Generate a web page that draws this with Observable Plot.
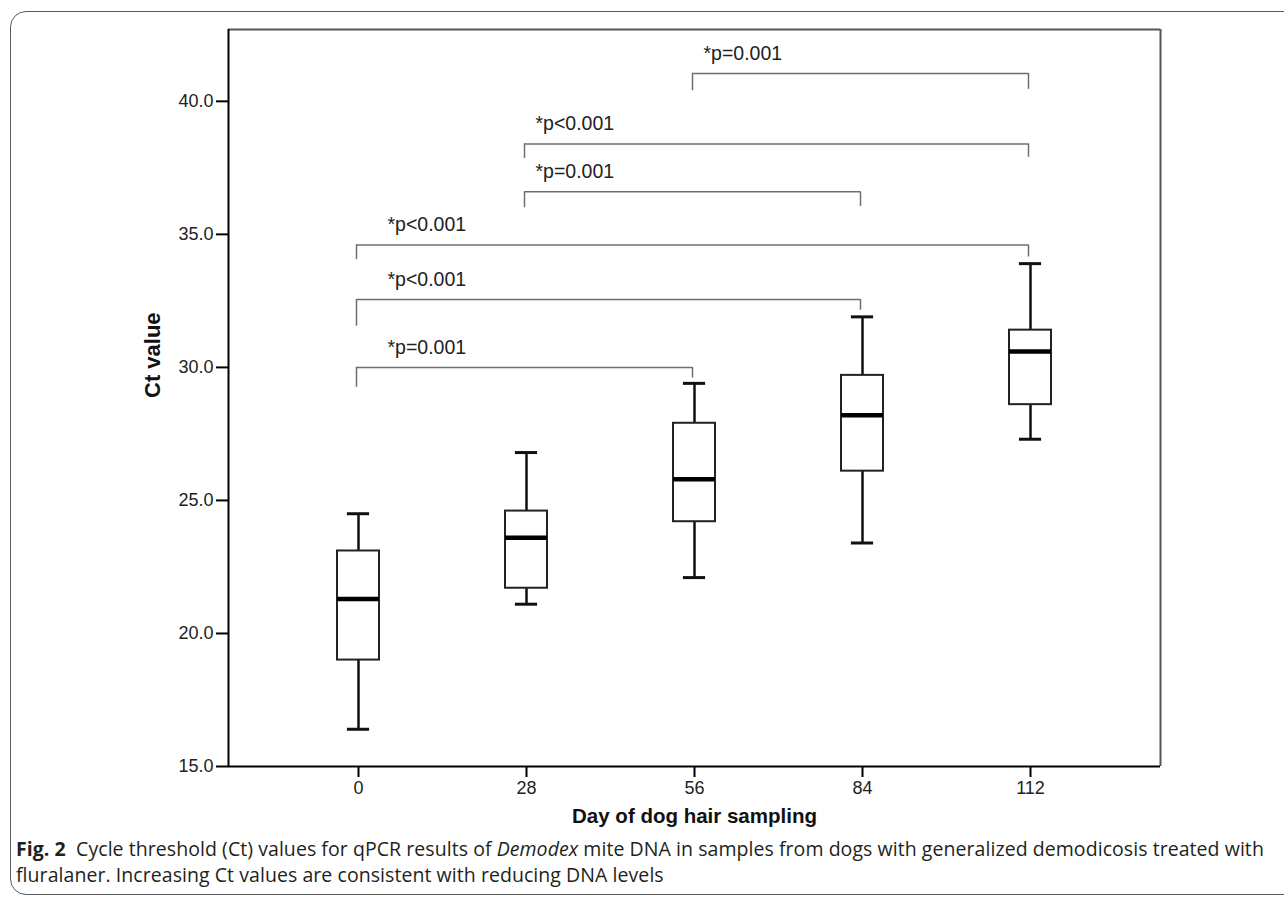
<!DOCTYPE html>
<html>
<head>
<meta charset="utf-8">
<script src="https://cdn.jsdelivr.net/npm/d3@7"></script>
<script src="https://cdn.jsdelivr.net/npm/@observablehq/plot@0.6"></script>
<style>
  html, body { margin: 0; padding: 0; background: #fff; overflow: hidden; }
  #wrap { position: relative; width: 1284px; height: 900px; }
  #border { position: absolute; left: 10px; top: 11px; width: 1320px; height: 884px;
    border: 1.5px solid #5a5a5a; border-radius: 16px; pointer-events: none; box-sizing: border-box; }
  #chart { position: absolute; left: 0; top: 0; }
  .cap { position: absolute; left: 16px; font-family: "Open Sans", sans-serif; font-size: 19.5px;
    color: #231f20; white-space: nowrap; line-height: 25px; letter-spacing: 0.06px; }
</style>
</head>
<body>
<div id="wrap">
  <div id="chart"></div>
  <div class="cap" id="cap1" style="top:836px"><b>Fig. 2</b>&nbsp; Cycle threshold (Ct) values for qPCR results of <i>Demodex</i> mite DNA in samples from dogs with generalized demodicosis treated with</div>
  <div class="cap" id="cap2" style="top:862px">fluralaner. Increasing Ct values are consistent with reducing DNA levels</div>
  <div id="border"></div>
</div>
<script>
// ---- data ----
const days = [0, 28, 56, 84, 112];
const dayLabels = ["0", "28", "56", "84", "112"];
const whiskerLow = [16.4, 21.1, 22.1, 23.4, 27.3];
const q1 = [19.0, 21.7, 24.2, 26.1, 28.6];
const median = [21.3, 23.6, 25.8, 28.2, 30.6];
const q3 = [23.1, 24.6, 27.9, 29.7, 31.4];
const whiskerHigh = [24.5, 26.8, 29.4, 31.9, 33.9];

const bracketFrom = [0, 0, 0, 28, 28, 56];
const bracketTo = [56, 84, 112, 84, 112, 112];
const bracketLevel = [30.0, 32.55, 34.6, 36.6, 38.4, 41.05];
const bracketLeftEnd = [29.25, 31.55, 34.05, 36.0, 37.85, 40.4];
const bracketRightEnd = [29.6, 32.15, 34.15, 36.05, 37.9, 40.45];
const bracketLabels = ["*p=0.001", "*p<0.001", "*p<0.001", "*p=0.001", "*p<0.001", "*p=0.001"];

const yTicks = [15, 20, 25, 30, 35, 40];

// ---- tables ----
const boxes = days.map((d, i) => ({
  day: d, lo: whiskerLow[i], q1: q1[i], med: median[i], q3: q3[i], hi: whiskerHigh[i]
}));
const brackets = bracketFrom.map((f, i) => ({
  from: f, to: bracketTo[i], level: bracketLevel[i],
  leftEnd: bracketLeftEnd[i], rightEnd: bracketRightEnd[i], label: bracketLabels[i]
}));

const halfBox = 3.5;   // half box width in day units
const halfCap = 1.85;  // half whisker cap width in day units
const pad = 130 / 6;   // outer padding in day units
const xDomain = [days[0] - pad, days[days.length - 1] + pad];
const yDomain = [15, 42.7];

const arial = "Liberation Sans, Arial, sans-serif";
const bracketColor = "#6e6e6e";

const chart = Plot.plot({
  width: 1284,
  height: 840,
  marginLeft: 228,
  marginRight: 124,
  marginTop: 29,
  marginBottom: 74,
  style: { background: "white", fontFamily: arial },
  x: { type: "linear", domain: xDomain },
  y: { type: "linear", domain: yDomain },
  marks: [
    // frame: top & right grey, left & bottom black
    Plot.ruleY([yDomain[1]], { stroke: "#555", strokeWidth: 2 }),
    Plot.ruleX([xDomain[1]], { stroke: "#555", strokeWidth: 2 }),
    Plot.axisY({
      ticks: yTicks, tickFormat: d3.format(".1f"), tickSize: 12, tickPadding: 3,
      strokeWidth: 2, stroke: "black", fontSize: 18, fill: "#222", label: null
    }),
    Plot.axisX({
      ticks: days, tickFormat: d => dayLabels[days.indexOf(d)], tickSize: 11, tickPadding: 4,
      strokeWidth: 2, stroke: "black", fontSize: 18, fill: "#222", label: null
    }),
    Plot.ruleX([xDomain[0]], { stroke: "black", strokeWidth: 2 }),
    Plot.ruleY([yDomain[0]], { stroke: "black", strokeWidth: 2 }),

    // brackets
    Plot.ruleY(brackets, { y: "level", x1: "from", x2: "to", stroke: bracketColor, strokeWidth: 1.5, dx: -2 }),
    Plot.ruleX(brackets, { x: "from", y1: "level", y2: "leftEnd", stroke: bracketColor, strokeWidth: 1.5, dx: -2 }),
    Plot.ruleX(brackets, { x: "to", y1: "level", y2: "rightEnd", stroke: bracketColor, strokeWidth: 1.5, dx: -2 }),
    Plot.text(brackets.filter(b => b.from === 0), {
      x: "from", y: "level", text: "label", textAnchor: "start", lineAnchor: "middle",
      dx: 29, dy: -20, fontSize: 19.5, fill: "#222"
    }),
    Plot.text(brackets.filter(b => b.from !== 0), {
      x: "from", y: "level", text: "label", textAnchor: "start", lineAnchor: "middle",
      dx: 9, dy: -20, fontSize: 19.5, fill: "#222"
    }),

    // whiskers
    Plot.ruleX(boxes, { x: "day", y1: "q3", y2: "hi", stroke: "#111", strokeWidth: 2.5 }),
    Plot.ruleX(boxes, { x: "day", y1: "q1", y2: "lo", stroke: "#111", strokeWidth: 2.5 }),
    Plot.ruleY(boxes, { y: "hi", x1: d => d.day - halfCap, x2: d => d.day + halfCap, stroke: "#111", strokeWidth: 3 }),
    Plot.ruleY(boxes, { y: "lo", x1: d => d.day - halfCap, x2: d => d.day + halfCap, stroke: "#111", strokeWidth: 3 }),
    // boxes
    Plot.rect(boxes, {
      x1: d => d.day - halfBox, x2: d => d.day + halfBox, y1: "q1", y2: "q3",
      fill: "white", stroke: "#222", strokeWidth: 2
    }),
    Plot.ruleY(boxes, { y: "med", x1: d => d.day - halfBox, x2: d => d.day + halfBox, stroke: "black", strokeWidth: 4.5 }),

    // axis titles
    Plot.text(["Ct value"], {
      frameAnchor: "left", dx: -76, rotate: -90, text: d => d,
      fontSize: 22, fontWeight: "bold", fill: "#111"
    }),
    Plot.text(["Day of dog hair sampling"], {
      frameAnchor: "bottom", dy: 56, text: d => d,
      fontSize: 20.5, fontWeight: "bold", fill: "#111"
    })
  ]
});
document.getElementById("chart").appendChild(chart);
</script>
</body>
</html>
